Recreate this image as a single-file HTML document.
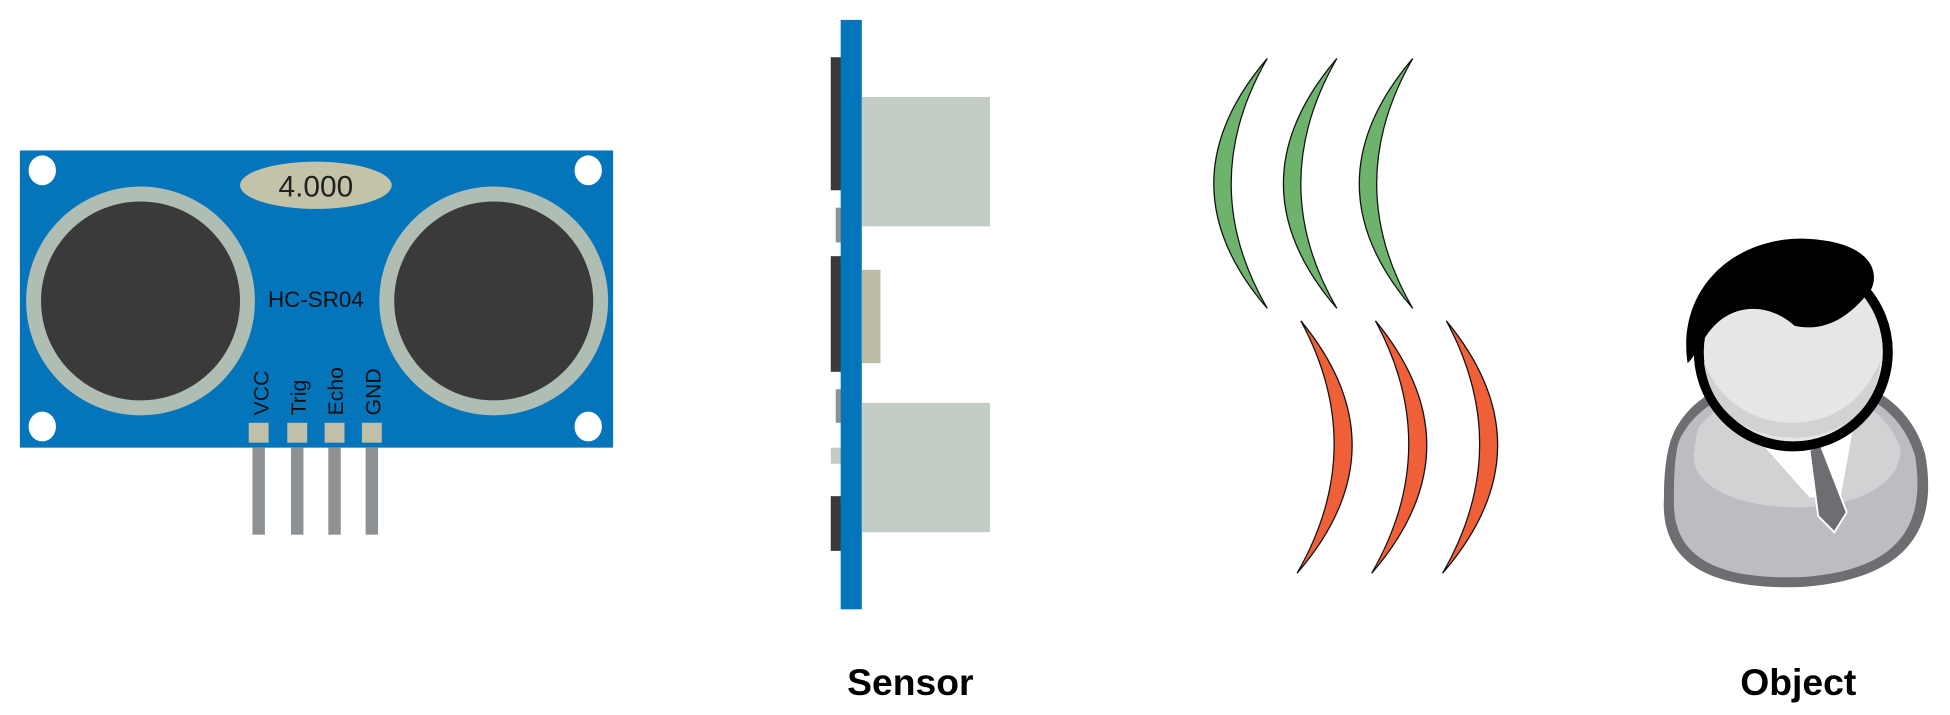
<!DOCTYPE html>
<html><head><meta charset="utf-8"><style>
html,body{margin:0;padding:0;background:#fff;}
svg{display:block;}
</style></head><body>
<svg width="1950" height="715" viewBox="0 0 1568 575" preserveAspectRatio="none" xmlns="http://www.w3.org/2000/svg">
<!-- Board -->
<rect x="16" y="121" width="477" height="239" fill="#0575bb"/>
<ellipse cx="34" cy="137" rx="11" ry="12" fill="#fff"/>
<ellipse cx="473" cy="137" rx="11" ry="12" fill="#fff"/>
<ellipse cx="34" cy="343" rx="11" ry="12" fill="#fff"/>
<ellipse cx="473" cy="343" rx="11" ry="12" fill="#fff"/>
<ellipse cx="254" cy="149" rx="61" ry="19" fill="#c2c3a9"/>
<text x="254" y="158" font-family="Liberation Sans, sans-serif" font-size="24" text-anchor="middle" fill="#222">4.000</text>
<ellipse cx="113" cy="242" rx="92" ry="92" fill="#afbdb3"/>
<ellipse cx="113" cy="242" rx="80" ry="80" fill="#3a3a3a"/>
<ellipse cx="397" cy="242" rx="92" ry="92" fill="#afbdb3"/>
<ellipse cx="397" cy="242" rx="80" ry="80" fill="#3a3a3a"/>
<text x="254" y="247" font-family="Liberation Sans, sans-serif" font-size="18" text-anchor="middle" fill="#111">HC-SR04</text>
<g font-family="Liberation Sans, sans-serif" font-size="17" fill="#111">
<text transform="translate(216,334) rotate(-90)">VCC</text>
<text transform="translate(246,334) rotate(-90)">Trig</text>
<text transform="translate(276,334) rotate(-90)">Echo</text>
<text transform="translate(306,334) rotate(-90)">GND</text>
</g>
<g fill="#c0bfa9">
<rect x="200" y="340" width="16" height="16"/>
<rect x="231" y="340" width="16" height="16"/>
<rect x="261" y="340" width="16" height="16"/>
<rect x="291" y="340" width="16" height="16"/>
</g>
<g fill="#8e9194">
<rect x="203" y="360" width="10" height="70"/>
<rect x="234" y="360" width="10" height="70"/>
<rect x="264" y="360" width="10" height="70"/>
<rect x="294" y="360" width="10" height="70"/>
</g>
<!-- Side view -->
<rect x="668" y="46" width="9" height="107" fill="#3a3a3a"/>
<rect x="668" y="206" width="9" height="93" fill="#3a3a3a"/>
<rect x="668" y="399" width="9" height="44" fill="#3a3a3a"/>
<rect x="672" y="167" width="5" height="28" fill="#8a9496"/>
<rect x="672" y="313" width="5" height="27" fill="#8a9496"/>
<rect x="668" y="360" width="9" height="13" fill="#c3cdc6"/>
<rect x="676" y="16" width="17" height="474" fill="#0575bb"/>
<rect x="693" y="78" width="103" height="104" fill="#c3cdc6"/>
<rect x="693" y="324" width="103" height="104" fill="#c3cdc6"/>
<rect x="693" y="217" width="15" height="75" fill="#bcbca4"/>
<!-- Waves -->
<g fill="#6db36b" stroke="#111" stroke-width="1">
<path d="M1019,47 Q933,148 1019,248 Q961,148 1019,47 Z"/>
<path d="M1075,47 Q989,148 1075,248 Q1017,148 1075,47 Z"/>
<path d="M1136,47 Q1050,148 1136,248 Q1078,148 1136,47 Z"/>
</g>
<g fill="#ef5f38" stroke="#111" stroke-width="1">
<path d="M1046,258 Q1130,360 1043,461 Q1101,360 1046,258 Z"/>
<path d="M1106,258 Q1190,360 1103,461 Q1161,360 1106,258 Z"/>
<path d="M1163,258 Q1247,360 1160,461 Q1218,360 1163,258 Z"/>
</g>
<!-- Person -->
<path d="M1345,350 C1360,315 1400,300 1445,300 C1495,300 1535,320 1548,365 C1558,420 1540,465 1450,472 C1370,475 1335,450 1338,400 C1338,380 1340,362 1345,350 Z" fill="#6d6e71"/>
<path d="M1350,355 C1365,322 1402,308 1445,308 C1492,308 1528,326 1540,367 C1548,418 1532,458 1450,464 C1375,467 1345,445 1346,402 C1346,380 1347,365 1350,355 Z" fill="#bcbdc0"/>
<path d="M1365,345 C1385,318 1420,312 1445,312 C1480,312 1515,325 1528,360 C1530,388 1495,408 1445,408 C1395,408 1360,390 1362,365 Z" fill="#d1d2d4"/>
<path d="M1415,355 L1455,400 L1480,400 L1490,345 Z" fill="#fff"/>
<path d="M1455,362 L1464,358 L1485,412 L1475,428 L1462,415 Z" fill="#6d6e71" stroke="#fff" stroke-width="1.5"/>
<circle cx="1442" cy="283" r="76" fill="#e6e6e6" stroke="#000" stroke-width="8"/>
<path d="M1370,290 C1375,335 1410,352 1442,352 C1480,352 1510,330 1512,290 C1500,320 1475,340 1442,340 C1405,340 1380,318 1370,290 Z" fill="#d1d2d4"/>
<path d="M1357,292 C1348,232 1395,190 1452,192 C1500,194 1512,215 1505,232 C1490,252 1470,268 1443,262 C1425,245 1392,240 1372,270 C1366,278 1362,288 1357,292 Z" fill="#000"/>
<!-- Labels -->
<text x="732" y="559" font-family="Liberation Sans, sans-serif" font-weight="bold" font-size="30" text-anchor="middle" fill="#000">Sensor</text>
<text x="1446" y="559" font-family="Liberation Sans, sans-serif" font-weight="bold" font-size="30" text-anchor="middle" fill="#000">Object</text>
</svg>
</body></html>
